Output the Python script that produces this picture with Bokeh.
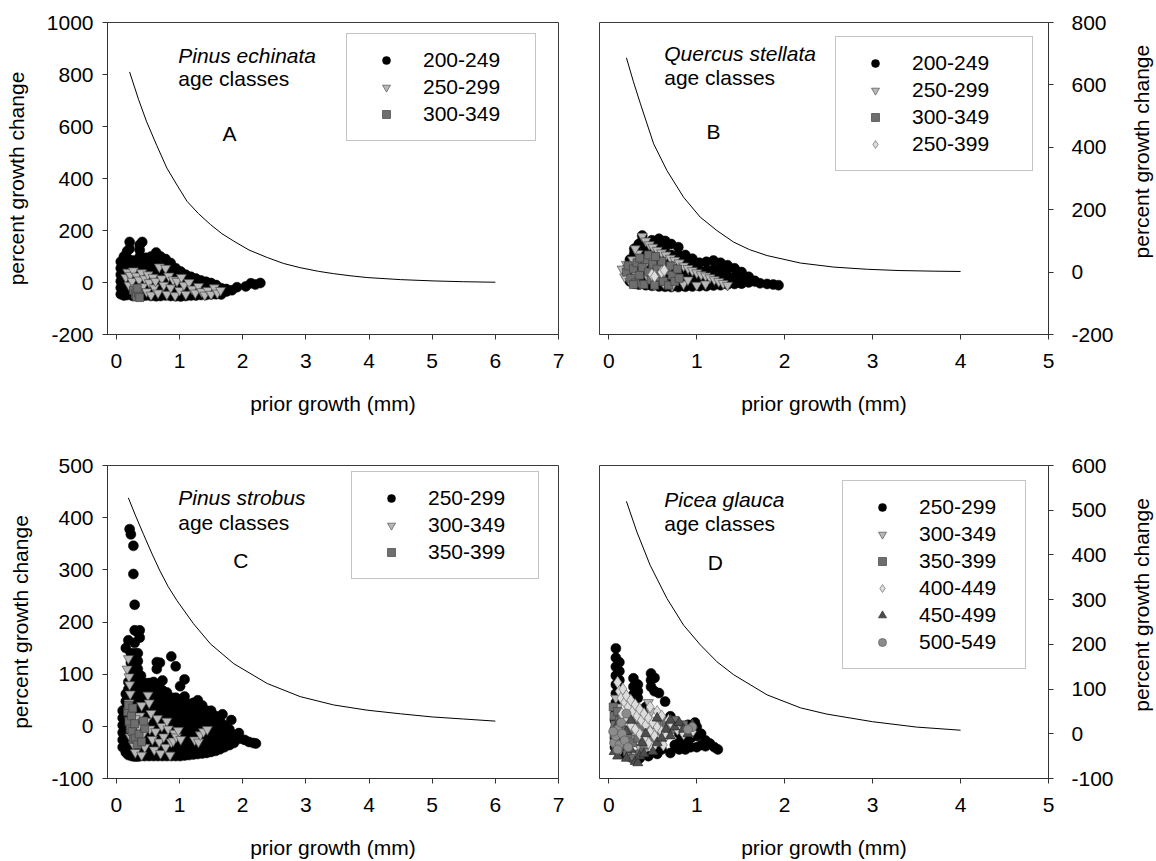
import math
from bokeh.plotting import figure
from bokeh.models import Range1d, FixedTicker, Label, PrintfTickFormatter
from bokeh.layouts import row, column
from bokeh.embed import file_html
from bokeh.resources import INLINE

FONT = "Liberation Sans"
FS = "21px"

# ---------------- data ----------------
# reference curves
A_curve_x = [0.21, 0.35, 0.48, 0.64, 0.80, 0.96, 1.12, 1.30, 1.49, 1.67, 1.86, 2.10, 2.39, 2.65, 2.91, 3.20, 3.44, 3.70, 3.97, 4.50, 5.03, 5.50, 6.00]
A_curve_y = [810, 705, 618, 527, 440, 375, 312, 265, 223, 188, 159, 125, 96, 73, 57, 43, 34, 26, 19, 11, 6, 3, 1]
B_curve_x = [0.20, 0.28, 0.36, 0.51, 0.66, 0.85, 1.04, 1.23, 1.42, 1.60, 1.80, 2.18, 2.56, 2.94, 3.30, 3.70, 4.00]
B_curve_y = [687, 610, 539, 411, 326, 240, 176, 133, 96, 72, 53, 29, 16, 9, 5, 3, 2]
C_curve_x = [0.19, 0.30, 0.43, 0.56, 0.69, 0.82, 0.96, 1.22, 1.49, 1.86, 2.39, 2.91, 3.44, 3.97, 4.50, 5.00, 5.50, 6.00]
C_curve_y = [438, 405, 368, 332, 298, 268, 241, 197, 158, 120, 82, 57, 41, 31, 24, 18, 14, 10]
D_curve_x = [0.20, 0.32, 0.47, 0.66, 0.85, 1.04, 1.23, 1.42, 1.80, 2.18, 2.48, 3.00, 3.50, 4.00]
D_curve_y = [520, 451, 377, 303, 243, 199, 161, 132, 87, 58, 44, 27, 15, 8]

# Panel A  Pinus echinata  (columns: x, [y values])
A_200_249 = [
    (0.07, [-45, -20, 5, 30, 55, 80]), (0.12, [-50, -25, 0, 25, 50, 75, 100]),
    (0.17, [-48, -22, 5, 35, 65, 95, 120]), (0.21, [130, 156]),
    (0.26, [-52, -25, 0, 30, 60, 85]), (0.32, [-50, -25, 5, 30, 55, 80]),
    (0.37, [100, 125, 145]), (0.41, [-52, -25, 0, 30, 60, 90, 156]),
    (0.47, [-50, -22, 5, 35, 65, 95]), (0.55, [-52, -25, 5, 35, 65, 100]),
    (0.63, [-53, -25, 5, 35, 65, 90, 115]), (0.70, [-52, -25, 5, 35, 60, 100]),
    (0.78, [-50, -22, 5, 35, 60, 90]), (0.86, [-52, -25, 5, 30, 55, 75]),
    (0.94, [-53, -25, 5, 30, 55]), (1.02, [-54, -28, 0, 25, 42]),
    (1.10, [-52, -25, 0, 30]), (1.18, [-50, -25, 0, 22]),
    (1.26, [-50, -25, 0, 15]), (1.34, [-48, -22, 8]), (1.42, [-48, -22, 3]),
    (1.50, [-46, -20, -2]), (1.58, [-45, -20, -10]), (1.66, [-46, -22]),
    (1.74, [-35, -25]), (1.83, [-30]), (1.91, [-18]), (2.05, [-15]),
    (2.13, [-3]), (2.20, [-8]), (2.28, [-2]),
]
A_250_299 = [(0.15, 20), (0.18, 40), (0.20, -10), (0.22, 28), (0.25, 5), (0.27, 45), (0.30, -20), (0.32, 25),
             (0.35, -38), (0.36, 10), (0.40, 38), (0.42, -15), (0.45, 15), (0.48, -35), (0.50, 30), (0.52, 0),
             (0.55, -48), (0.58, 20), (0.60, -20), (0.62, 5), (0.66, -40), (0.68, 60), (0.72, 15), (0.75, -10),
             (0.78, 55), (0.80, -45), (0.83, 25), (0.86, -20), (0.90, 10), (0.93, -50), (0.96, 5), (1.00, -30),
             (1.03, 20), (1.07, -10), (1.10, -45), (1.15, 0), (1.20, -25), (1.25, -40), (1.30, -15), (1.35, -35),
             (1.40, -48), (1.45, -30), (1.50, -45), (1.55, -20), (1.60, -40), (1.65, -30)]
A_300_349 = [(0.27, -30), (0.30, -45), (0.32, -55), (0.35, -40), (0.37, -58), (0.33, -22)]

# Panel B  Quercus stellata
B_200_249 = [
    (0.20, [-10, 10]), (0.24, [-30, -5, 20, 40]), (0.29, [-37, -15, 10, 35, 60, 75]),
    (0.34, [-40, -15, 10, 35, 60, 90]), (0.38, [100, 117]), (0.42, [-42, -18, 8, 32, 56, 80]),
    (0.49, [-44, -20, 5, 30, 55, 80, 102]), (0.57, [-46, -20, 5, 30, 55, 80, 107]),
    (0.64, [-47, -22, 5, 30, 55, 80, 100]), (0.71, [-48, -22, 5, 30, 55, 90]),
    (0.79, [-48, -22, 5, 30, 55, 80]), (0.87, [-47, -22, 5, 30, 55]),
    (0.95, [-46, -20, 5, 30, 43]), (1.03, [-45, -20, 5, 30]), (1.11, [-45, -20, 5, 33]),
    (1.19, [-43, -18, 8, 37]), (1.27, [-42, -18, 8, 30]), (1.35, [-40, -15, 10, 22]),
    (1.43, [-38, -15, 12]), (1.51, [-37, -15, 0]), (1.59, [-33, -15]), (1.66, [-28, -30]),
    (1.72, [-36]), (1.80, [-38]), (1.87, [-40]), (1.93, [-42]),
]
B_250_299 = [(0.38, 115), (0.42, 100), (0.46, 88), (0.50, 80), (0.55, 70), (0.60, 62), (0.65, 55), (0.70, 45),
             (0.75, 38), (0.80, 30), (0.85, 20), (0.90, 12), (0.95, 5), (1.00, -2), (1.05, -8), (1.10, -12),
             (1.15, -18), (1.20, -24), (1.25, -30), (1.30, -36), (1.35, -42), (0.15, 10), (0.18, -15), (0.20, 25),
             (0.24, -30), (0.27, 40), (0.30, -5), (0.33, 60), (0.36, -38), (0.40, 20), (0.45, -20), (0.48, 40),
             (0.52, -42), (0.56, 15), (0.62, -35), (0.68, 10), (0.72, -45), (0.78, -15), (0.85, -38), (0.90, -25),
             (1.00, -42), (1.10, -38), (0.58, -10), (0.30, 75)]
B_300_349 = [(0.20, 0), (0.22, 20), (0.25, -20), (0.28, 10), (0.30, -35), (0.32, 30), (0.35, -10), (0.38, 15),
             (0.40, -40), (0.42, 40), (0.45, 0), (0.48, -25), (0.50, 25), (0.52, -42), (0.55, 10), (0.58, -15),
             (0.60, 35), (0.62, -30), (0.65, 5), (0.68, -42), (0.70, 20), (0.72, -10), (0.75, -30), (0.78, 10),
             (0.80, -20), (0.35, 45), (0.45, 55), (0.28, -40), (0.60, -5), (0.53, 50)]
B_250_399 = [(0.49, -8), (0.60, 0), (0.63, 6), (0.52, -14)]

# Panel C  Pinus strobus
C_250_299 = [
    (0.10, [-40, -26, -12, 2, 16, 30]), (0.15, [-50, -36, -22, -8, 6, 20, 34, 48, 62, 150]),
    (0.19, [-55, -41, -27, -13, 1, 15, 29, 43, 57, 71, 85, 165]), (0.21, [378]),
    (0.23, [368, 140, 122, 104]), (0.24, [-57, -43, -29, -15, -1, 13, 27, 41, 55, 69, 85]),
    (0.27, [346, 292]),
    (0.29, [-58, -44, -30, -16, -2, 12, 26, 40, 54, 68, 82, 96, 110, 124, 140, 160, 184, 233]),
    (0.34, [-58, -44, -30, -16, -2, 12, 26, 40, 54, 68, 82, 96, 110, 125, 140, 180]),
    (0.37, [184, 170]), (0.39, [-57, -43, -29, -15, -1, 13, 27, 41, 55, 69, 83, 97]),
    (0.45, [-57, -43, -29, -15, -1, 13, 27, 41, 55, 69, 83]),
    (0.52, [-57, -43, -29, -15, -1, 13, 27, 41, 55, 69, 83]),
    (0.59, [-57, -43, -29, -15, -1, 13, 27, 41, 55, 69, 85]), (0.64, [123, 110]),
    (0.66, [-57, -43, -29, -15, -1, 13, 27, 41, 55, 69, 80]), (0.69, [122]),
    (0.73, [-57, -43, -29, -15, -1, 13, 27, 41, 55, 69, 88]),
    (0.80, [-57, -43, -29, -15, -1, 13, 27, 41, 55, 65]),
    (0.87, [-57, -43, -29, -15, -1, 13, 27, 41, 55, 134]),
    (0.94, [-57, -43, -29, -15, -1, 13, 27, 41, 55, 115]),
    (1.01, [-57, -43, -29, -15, -1, 13, 27, 41, 52, 77]),
    (1.08, [-56, -42, -28, -14, 0, 14, 28, 42, 57, 90]),
    (1.15, [-55, -41, -27, -13, 1, 15, 29, 43]), (1.22, [-54, -40, -26, -12, 2, 16, 30, 45]),
    (1.29, [-53, -39, -25, -11, 3, 17, 31, 50]), (1.36, [-52, -38, -24, -10, 4, 18, 32, 40]),
    (1.43, [-51, -37, -23, -9, 5, 19, 30]), (1.50, [-49, -35, -21, -7, 7, 21, 30]),
    (1.57, [-47, -33, -19, -5, 9, 20]), (1.64, [-44, -30, -16, -2, 12]), (1.68, [23]),
    (1.71, [-40, -26, -12, 2]), (1.79, [-36, -20, -6]), (1.82, [12]), (1.86, [-32, -16]),
    (1.94, [-13, -24]), (2.03, [-26]), (2.10, [-30]), (2.17, [-32]), (2.21, [-33]),
]
C_300_349 = [(0.17, 110), (0.19, 130), (0.20, 95), (0.21, 80), (0.22, 62), (0.20, 45), (0.23, 28), (0.21, 12),
             (0.25, -5), (0.22, -20), (0.27, -35), (0.30, -50), (0.33, -30), (0.35, 0), (0.37, 20), (0.40, 40),
             (0.42, -15), (0.45, -40), (0.47, 10), (0.50, 60), (0.52, 45), (0.55, 25), (0.53, -5), (0.57, -25),
             (0.60, -45), (0.62, -10), (0.65, 15), (0.68, -30), (0.70, -52), (0.72, 0), (0.75, -20), (0.78, -40),
             (0.80, 10), (0.82, -5), (0.85, -55), (0.87, -30), (0.90, -28), (0.92, -13), (0.95, -20), (0.98, -8),
             (1.02, -25), (1.24, -26), (1.30, -30), (1.33, -16), (1.38, -10), (1.44, -6), (0.40, -55), (0.30, 15)]
C_350_399 = [(0.18, 28), (0.19, 40), (0.20, 9), (0.22, -5), (0.24, 20), (0.25, -10), (0.27, -25), (0.30, -23),
             (0.29, 5), (0.33, -35), (0.36, -15), (0.40, -30), (0.45, -4), (0.43, 10), (0.26, 35)]

# Panel D  Picea glauca
D_250_299 = [
    (0.07, [-30, -10, 10, 30]), (0.08, [50, 70, 90, 110, 130, 150, 170, 191]),
    (0.12, [75, 100, 120, 140, 160]), (0.15, [-45]), (0.25, [-50]), (0.28, [88, 105, 124]),
    (0.33, [80, 95, 110]), (0.35, [-55]), (0.38, [20]), (0.42, [40, 60]), (0.45, [-50]),
    (0.48, [105, 120, 135]), (0.52, [95, 125]), (0.55, [-45]), (0.57, [91]), (0.60, [-35]),
    (0.64, [72]), (0.70, [39, -43]), (0.75, [-25]), (0.80, [0, -20, -35]), (0.87, [5, -15, -35]),
    (0.90, [20]), (0.93, [10, -10, -30]), (0.98, [25]), (1.00, [15, -5, -30]), (1.05, [0, -25]),
    (1.10, [-15, -28]), (1.15, [-22]), (1.20, [-30]), (1.24, [-35]),
]
D_300_349 = [(0.08, 80), (0.10, 60), (0.12, 40), (0.14, 20), (0.16, 0), (0.18, -20), (0.20, -40), (0.22, -50),
             (0.30, -45), (0.35, -30), (0.45, 70), (0.48, 50), (0.25, -10), (0.40, -40), (0.13, -35), (0.09, -25)]
D_350_399 = [(0.05, 60), (0.06, 40), (0.07, 20), (0.06, 0), (0.07, -20), (0.08, -35), (0.10, 50), (0.12, 30),
             (0.11, 10), (0.13, -10), (0.12, -30), (0.15, 40), (0.17, 15), (0.16, -5), (0.18, -25), (0.20, 25),
             (0.22, 0), (0.21, -40), (0.25, 10), (0.27, -20), (0.30, 30), (0.33, -10), (0.36, 15), (0.40, -25),
             (0.45, 5), (0.50, -15), (0.55, 20), (0.60, 0), (0.65, 25), (0.70, 10), (0.75, 30), (0.80, 15),
             (0.85, 20), (0.90, 5), (0.35, -45), (0.28, -55)]
D_400_449 = [(0.10, 115), (0.12, 95), (0.14, 80), (0.16, 100), (0.18, 70), (0.20, 85), (0.22, 60), (0.25, 75),
             (0.27, 50), (0.30, 65), (0.32, 40), (0.35, 55), (0.37, 30), (0.40, 45), (0.42, 20), (0.45, 35),
             (0.47, 5), (0.50, 25), (0.52, -5), (0.55, 15), (0.57, -15), (0.60, 5), (0.62, -25), (0.65, -5),
             (0.50, -30), (0.45, -20), (0.40, -10), (0.35, 0), (0.55, 50), (0.60, 40), (0.68, 30), (0.72, 20),
             (0.78, 10), (0.85, 0), (0.95, 5), (0.25, 20), (0.30, 10), (0.20, 30), (0.15, 45), (0.47, 60)]
D_450_499 = [(0.06, -40), (0.10, -50), (0.15, -30), (0.20, -55), (0.25, -35), (0.30, -62), (0.33, -65),
             (0.35, -50), (0.38, -20), (0.40, -45), (0.42, 0), (0.50, -40), (0.55, -20), (0.60, -10), (0.65, 10),
             (0.70, -5), (0.75, 15), (0.80, 25), (0.85, 10), (0.90, 0), (0.95, 20), (0.10, 20), (0.15, -5),
             (0.20, 5), (0.25, 30), (0.70, 30), (0.55, 35)]
D_500_549 = [(0.06, -20), (0.08, -5), (0.10, 10), (0.12, -25), (0.15, 0), (0.14, 25), (0.18, -15), (0.10, -35),
             (0.22, -30), (0.95, 15), (0.90, 10), (0.05, 5), (0.20, 45)]

X_LABEL = "prior growth (mm)"
Y_LABEL = "percent growth change"


# ---------------- helpers ----------------
def expand(cols):
    xs, ys = [], []
    for x, yv in cols:
        for y in yv:
            xs.append(x)
            ys.append(y)
    return xs, ys


def pairs(pts):
    return [a for a, b in pts], [b for a, b in pts]


STYLE = {
    "blk": dict(marker="circle", size=10, fill_color="black", line_color="black", line_width=0.5),
    "itri": dict(marker="inverted_triangle", size=10, fill_color="#b8b8b8", line_color="#505050", line_width=0.7),
    "sq": dict(marker="square", size=8, fill_color="#6e6e6e", line_color="#444444", line_width=0.7),
    "dia": dict(marker="diamond", size=12, fill_color="#dcdcdc", line_color="#707070", line_width=0.7),
    "tri": dict(marker="triangle", size=10, fill_color="#4d4d4d", line_color="#2a2a2a", line_width=0.7),
    "gc": dict(marker="circle", size=9, fill_color="#8c8c8c", line_color="#5a5a5a", line_width=0.7),
}

RIGHT_TITLE_W = 40  # narrow strip holding the right-hand axis title


def panel(top_row, right, xr, yr, xticks, yticks, curve, series, species, letter, tpos, legend_loc, label_w):
    p = figure(width=578 - RIGHT_TITLE_W if right else 578, height=430 if top_row else 431,
               x_range=Range1d(*xr), y_range=Range1d(*yr),
               output_backend="svg", toolbar_location=None,
               y_axis_location="right" if right else "left",
               min_border_left=21 if right else 107,
               min_border_right=108 - RIGHT_TITLE_W if right else 20,
               min_border_top=22 if top_row else 35,
               min_border_bottom=96 if top_row else 82)
    p.background_fill_color = "white"
    p.border_fill_color = "white"
    p.outline_line_color = "#3a3a3a"
    p.outline_line_width = 1
    p.xgrid.visible = False
    p.ygrid.visible = False

    p.xaxis.ticker = FixedTicker(ticks=xticks)
    p.yaxis.ticker = FixedTicker(ticks=yticks)
    p.xaxis.formatter = PrintfTickFormatter(format="%d")
    p.yaxis.formatter = PrintfTickFormatter(format="%d")
    p.xaxis.axis_label = X_LABEL
    if not right:
        p.yaxis.axis_label = Y_LABEL
    for ax in (p.xaxis[0], p.yaxis[0]):
        ax.axis_line_color = "#333333"
        ax.major_tick_line_color = "#333333"
        ax.major_tick_out = 5
        ax.major_tick_in = 0
        ax.minor_tick_line_color = None
        ax.major_label_text_font = FONT
        ax.major_label_text_font_size = FS
        ax.major_label_text_color = "black"
        ax.axis_label_text_font = FONT
        ax.axis_label_text_font_size = FS
        ax.axis_label_text_font_style = "normal"
        ax.axis_label_text_color = "black"
    p.xaxis[0].major_label_standoff = 14
    p.xaxis[0].axis_label_standoff = 21
    if right:
        p.yaxis[0].major_label_standoff = 18
    else:
        p.yaxis[0].major_label_standoff = 9
        p.yaxis[0].axis_label_standoff = 16

    p.line(curve[0], curve[1], line_color="black", line_width=1)

    for name, key, (xs, ys) in series:
        p.scatter(xs, ys, legend_label=name, **STYLE[key])

    lg = p.legend[0]
    lg.location = legend_loc
    lg.margin = 0
    lg.padding = 14
    lg.spacing = 3
    lg.glyph_width = 50
    lg.glyph_height = 20
    lg.label_standoff = 12
    lg.label_width = label_w
    lg.label_height = 20
    lg.label_text_font = FONT
    lg.label_text_font_size = FS
    lg.label_text_color = "black"
    lg.border_line_color = "#8a8a8a"
    lg.border_line_width = 1
    lg.background_fill_color = "white"
    lg.background_fill_alpha = 1

    (sx, sy1, sy2), (lx, ly) = tpos
    p.add_layout(Label(x=sx, y=sy1, text=species, text_font=FONT, text_font_size=FS, text_color="black",
                       text_font_style="italic", text_baseline="middle", text_align="left"))
    p.add_layout(Label(x=sx, y=sy2, text="age classes", text_font=FONT, text_font_size=FS, text_color="black",
                       text_baseline="middle", text_align="left"))
    p.add_layout(Label(x=lx, y=ly, text=letter, text_font=FONT, text_font_size=FS, text_color="black",
                       text_baseline="middle", text_align="center"))
    return p


def right_title(height, center_from_top):
    """Narrow strip carrying the right-hand y-axis title, reading bottom-to-top."""
    f = figure(width=RIGHT_TITLE_W, height=height,
               x_range=Range1d(0, RIGHT_TITLE_W), y_range=Range1d(0, height),
               output_backend="svg", toolbar_location=None,
               x_axis_location=None, y_axis_location=None,
               min_border=0)
    f.outline_line_color = None
    f.grid.visible = False
    f.background_fill_color = "white"
    f.border_fill_color = "white"
    f.add_layout(Label(x=25, y=height - center_from_top, text=Y_LABEL, angle=math.pi / 2,
                       text_font=FONT, text_font_size=FS, text_color="black",
                       text_align="center", text_baseline="middle"))
    return f


pA = panel(True, False, (-0.14, 7), (-200, 1000), list(range(0, 8)), list(range(-200, 1001, 200)),
           (A_curve_x, A_curve_y),
           [("200-249", "blk", expand(A_200_249)), ("250-299", "itri", pairs(A_250_299)),
            ("300-349", "sq", pairs(A_300_349))],
           "Pinus echinata", "A", ((0.98, 873, 784), (1.79, 574)), (239, 193), 98)

pB = panel(True, True, (-0.106, 5), (-200, 800), list(range(0, 6)), list(range(-200, 801, 200)),
           (B_curve_x, B_curve_y),
           [("200-249", "blk", expand(B_200_249)), ("250-299", "itri", pairs(B_250_299)),
            ("300-349", "sq", pairs(B_300_349)), ("250-399", "dia", pairs(B_250_399))],
           "Quercus stellata", "B", ((0.63, 700, 625), (1.19, 451)), (236, 163), 106)

pC = panel(False, False, (-0.14, 7), (-100, 500), list(range(0, 8)), list(range(-100, 501, 100)),
           (C_curve_x, C_curve_y),
           [("250-299", "blk", expand(C_250_299)), ("300-349", "itri", pairs(C_300_349)),
            ("350-399", "sq", pairs(C_350_399))],
           "Pinus strobus", "C", ((0.98, 438, 391), (1.97, 317)), (244, 199), 96)

pD = panel(False, True, (-0.106, 5), (-100, 600), list(range(0, 6)), list(range(-100, 601, 100)),
           (D_curve_x, D_curve_y),
           [("250-299", "blk", expand(D_250_299)), ("300-349", "itri", pairs(D_300_349)),
            ("350-399", "sq", pairs(D_350_399)), ("400-449", "dia", pairs(D_400_449)),
            ("450-499", "tri", pairs(D_450_499)), ("500-549", "gc", pairs(D_500_549))],
           "Picea glauca", "D", ((0.63, 523, 470), (1.21, 384)), (243, 109), 92)

tB = right_title(430, 178)
tD = right_title(431, 192)

layout = column(row(pA, pB, tB), row(pC, pD, tD))
open("out.html", "w").write(file_html(layout, INLINE))
